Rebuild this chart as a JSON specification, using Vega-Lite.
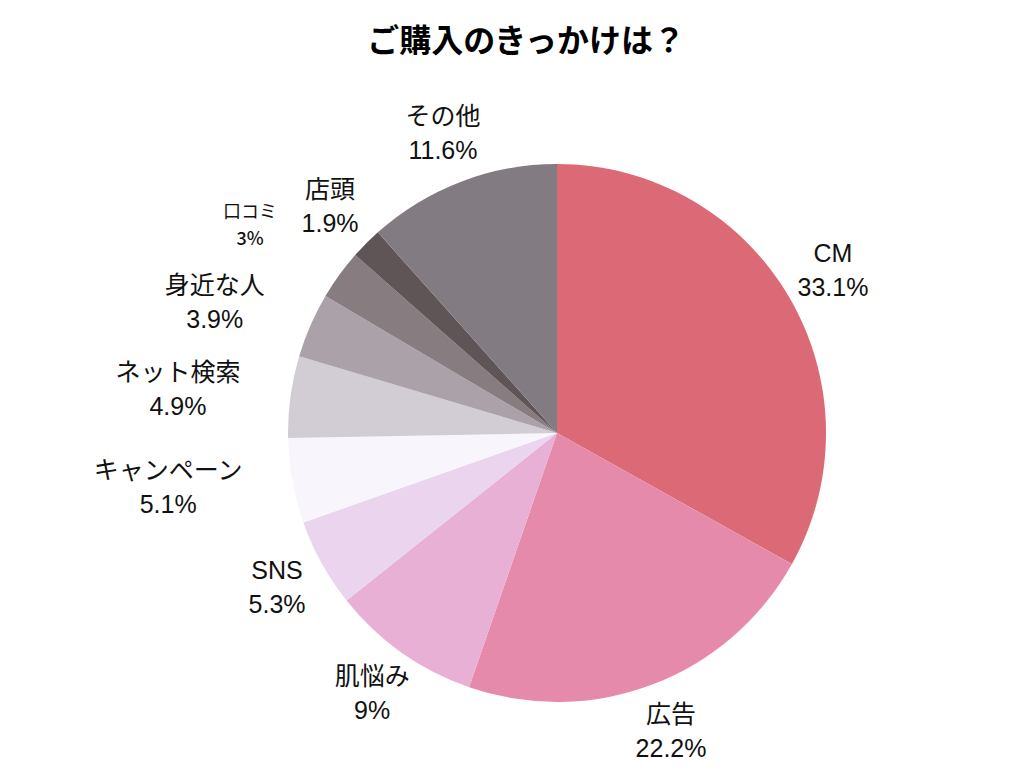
{
  "$schema": "https://vega.github.io/schema/vega-lite/v6.json",
  "autosize": "none",
  "width": 800,
  "height": 600,
  "padding": {"left": 157, "top": 133, "right": 0, "bottom": 40},
  "background": "white",
  "title": {
    "text": "ご購入のきっかけは？",
    "font": "Noto Sans CJK JP",
    "fontSize": 32,
    "fontWeight": "bold",
    "color": "#000000",
    "anchor": "middle",
    "dx": -31,
    "offset": 34
  },
  "data": {
    "values": [
      {"i": 1, "name": "CM", "v": 0.331},
      {"i": 2, "name": "広告", "v": 0.222},
      {"i": 3, "name": "肌悩み", "v": 0.09},
      {"i": 4, "name": "SNS", "v": 0.053},
      {"i": 5, "name": "キャンペーン", "v": 0.051},
      {"i": 6, "name": "ネット検索", "v": 0.049},
      {"i": 7, "name": "身近な人", "v": 0.039},
      {"i": 8, "name": "口コミ", "v": 0.03},
      {"i": 9, "name": "店頭", "v": 0.019},
      {"i": 10, "name": "その他", "v": 0.116}
    ]
  },
  "encoding": {
    "theta": {"field": "v", "type": "quantitative", "stack": true},
    "order": {"field": "i", "type": "quantitative"}
  },
  "layer": [
    {
      "mark": {"type": "arc", "outerRadius": 269},
      "encoding": {
        "color": {
          "field": "name",
          "type": "nominal",
          "legend": null,
          "scale": {
            "domain": ["CM", "広告", "肌悩み", "SNS", "キャンペーン", "ネット検索", "身近な人", "口コミ", "店頭", "その他"],
            "range": ["#dc6a76", "#e68aac", "#e8b0d4", "#ead4ee", "#f8f6fc", "#d2ccd4", "#aba1a9", "#877c80", "#5f5456", "#827b82"]
          }
        }
      }
    },
    {
      "mark": {"type": "text", "radius": 320, "dy": -17, "font": "Liberation Sans, Noto Sans CJK JP", "fontSize": 25, "color": "#111111"},
      "encoding": {
        "text": {"condition": {"test": "indexof(['キャンペーン','ネット検索','身近な人','口コミ'], datum.name) >= 0", "value": ""}, "field": "name", "type": "nominal"}
      }
    },
    {
      "mark": {"type": "text", "radius": 320, "dy": 17, "font": "Liberation Sans, Noto Sans CJK JP", "fontSize": 25, "color": "#111111"},
      "encoding": {
        "text": {"condition": {"test": "indexof(['キャンペーン','ネット検索','身近な人','口コミ'], datum.name) >= 0", "value": ""}, "field": "v", "type": "quantitative", "format": ".1~%"}
      }
    },
    {
      "mark": {"type": "text", "radius": 320, "dx": -74, "dy": -19, "font": "Liberation Sans, Noto Sans CJK JP", "fontSize": 25, "color": "#111111"},
      "encoding": {
        "text": {"condition": {"test": "datum.name !== 'キャンペーン'", "value": ""}, "field": "name", "type": "nominal"}
      }
    },
    {
      "mark": {"type": "text", "radius": 320, "dx": -74, "dy": 15, "font": "Liberation Sans, Noto Sans CJK JP", "fontSize": 25, "color": "#111111"},
      "encoding": {
        "text": {"condition": {"test": "datum.name !== 'キャンペーン'", "value": ""}, "field": "v", "type": "quantitative", "format": ".1~%"}
      }
    },
    {
      "mark": {"type": "text", "radius": 320, "dx": -62, "dy": -17, "font": "Liberation Sans, Noto Sans CJK JP", "fontSize": 25, "color": "#111111"},
      "encoding": {
        "text": {"condition": {"test": "datum.name !== 'ネット検索'", "value": ""}, "field": "name", "type": "nominal"}
      }
    },
    {
      "mark": {"type": "text", "radius": 320, "dx": -62, "dy": 17, "font": "Liberation Sans, Noto Sans CJK JP", "fontSize": 25, "color": "#111111"},
      "encoding": {
        "text": {"condition": {"test": "datum.name !== 'ネット検索'", "value": ""}, "field": "v", "type": "quantitative", "format": ".1~%"}
      }
    },
    {
      "mark": {"type": "text", "radius": 320, "dx": -49, "dy": -19, "font": "Liberation Sans, Noto Sans CJK JP", "fontSize": 25, "color": "#111111"},
      "encoding": {
        "text": {"condition": {"test": "datum.name !== '身近な人'", "value": ""}, "field": "name", "type": "nominal"}
      }
    },
    {
      "mark": {"type": "text", "radius": 320, "dx": -49, "dy": 15, "font": "Liberation Sans, Noto Sans CJK JP", "fontSize": 25, "color": "#111111"},
      "encoding": {
        "text": {"condition": {"test": "datum.name !== '身近な人'", "value": ""}, "field": "v", "type": "quantitative", "format": ".1~%"}
      }
    },
    {
      "mark": {"type": "text", "radius": 320, "dx": -48, "dy": -32, "font": "Noto Sans CJK JP", "fontSize": 18, "color": "#111111"},
      "encoding": {
        "text": {"condition": {"test": "datum.name !== '口コミ'", "value": ""}, "field": "name", "type": "nominal"}
      }
    },
    {
      "mark": {"type": "text", "radius": 320, "dx": -48, "dy": -5, "font": "Noto Sans CJK JP", "fontSize": 18, "fontWeight": 500, "color": "#111111"},
      "encoding": {
        "text": {"condition": {"test": "datum.name !== '口コミ'", "value": ""}, "field": "v", "type": "quantitative", "format": ".1~%"}
      }
    }
  ]
}
